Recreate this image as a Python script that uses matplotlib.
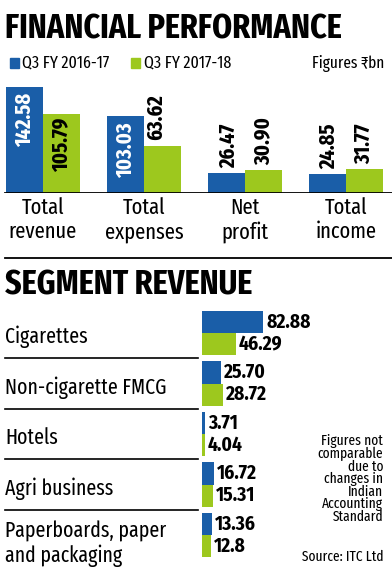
import matplotlib
matplotlib.use("Agg")
import matplotlib.pyplot as plt
from matplotlib.patches import Rectangle
from matplotlib.transforms import blended_transform_factory

# financial performance (Rs bn)
fin_cats = ["Total\nrevenue", "Total\nexpenses", "Net\nprofit", "Total\nincome"]
fin_prev = [142.58, 103.03, 26.47, 24.85]
fin_curr = [105.79, 63.62, 30.90, 31.77]
fin_prev_lbl = ["142.58", "103.03", "26.47", "24.85"]
fin_curr_lbl = ["105.79", "63.62", "30.90", "31.77"]

# segment revenue (Rs bn)
seg_cats = ["Cigarettes", "Non-cigarette FMCG", "Hotels", "Agri business",
            "Paperboards, paper\nand packaging"]
seg_prev = [82.88, 25.70, 3.71, 16.72, 13.36]
seg_curr = [46.29, 28.72, 4.04, 15.31, 12.8]
seg_prev_lbl = ["82.88", "25.70", "3.71", "16.72", "13.36"]
seg_curr_lbl = ["46.29", "28.72", "4.04", "15.31", "12.8"]

BLUE = "#1a5ea8"
GREEN = "#9dc81e"
XCOND = ["Fira Sans Extra Condensed", "DejaVu Sans"]
COND = ["Fira Sans Condensed", "DejaVu Sans"]

W, H = 392, 584
fig = plt.figure(figsize=(W / 100, H / 100), dpi=100)


def box(x0, y0, x1, y1):
    # pixel box (top-left origin) -> figure fraction rect
    return [x0 / W, 1 - y1 / H, (x1 - x0) / W, (y1 - y0) / H]


def fx(x):
    return x / W


def fy(y):
    return 1 - y / H


# titles and legend
fig.text(fx(5), fy(29), "FINANCIAL PERFORMANCE", fontsize=25, weight="bold",
         family=XCOND, va="center", ha="left")
fig.patches.append(Rectangle((fx(10), fy(68)), 9 / W, 10 / H, color=BLUE,
                             transform=fig.transFigure, figure=fig))
fig.text(fx(22), fy(63), "Q3 FY 2016-17", fontsize=12.5, family=XCOND, va="center")
fig.patches.append(Rectangle((fx(131), fy(68)), 9 / W, 10 / H, color=GREEN,
                             transform=fig.transFigure, figure=fig))
fig.text(fx(144), fy(63), "Q3 FY 2017-18", fontsize=12.5, family=XCOND, va="center")
fig.text(fx(384), fy(63), "Figures \u20b9bn", fontsize=12, family=XCOND,
         va="center", ha="right")

# top chart: grouped columns
ax = fig.add_axes(box(0, 80, W, 193))
x = list(range(len(fin_cats)))
bw = 0.366
ax.bar([i - bw / 2 for i in x], fin_prev, bw, color=BLUE)
ax.bar([i + bw / 2 for i in x], fin_curr, bw, color=GREEN)
ax.set_xlim(-43 / 101, (W - 43) / 101)
ax.set_ylim(0, 113 / 0.745)
ax.axis("off")
ax.axhline(0, xmin=5 / W, xmax=1, color="black", lw=1.3)

vk = dict(rotation=90, ha="center", fontsize=16, weight="bold", family=XCOND)
for i in x:
    if fin_prev[i] > 90:
        ax.text(i - bw / 2, fin_prev[i] - 8, fin_prev_lbl[i], va="top",
                color="white", **vk)
    else:
        ax.text(i - bw / 2 + 0.02, fin_prev[i] + 7, fin_prev_lbl[i], va="bottom",
                color="black", **vk)
    if fin_curr[i] > 90:
        ax.text(i + bw / 2, fin_curr[i] - 5, fin_curr_lbl[i], va="top",
                color="black", **vk)
    else:
        dx = -0.06 if fin_curr[i] > 50 else 0
        ax.text(i + bw / 2 + dx, fin_curr[i] + 7, fin_curr_lbl[i], va="bottom",
                color="black", **vk)
    ax.text(i, -6, fin_cats[i], ha="center", va="top", fontsize=16,
            family=XCOND, linespacing=1.15, clip_on=False)

# divider
fig.add_artist(plt.Line2D([fx(5), fx(W)], [fy(258), fy(258)], color="black", lw=1.3))

fig.text(fx(5), fy(285), "SEGMENT REVENUE", fontsize=25, weight="bold",
         family=XCOND, va="center", ha="left")

# bottom chart: horizontal paired bars
ax2 = fig.add_axes(box(0, 300, W, 570))
rows = list(range(len(seg_cats)))
bh = 0.44
ax2.barh([r - bh for r in rows], seg_prev, height=bh, align="edge", color=BLUE)
ax2.barh(rows, seg_curr, height=bh, align="edge", color=GREEN)
scale = 0.737
ax2.set_xlim(-202 / scale, (W - 202) / scale)
ax2.set_ylim((570 - 333) / 50.5, (300 - 333) / 50.5)
ax2.axis("off")

for r in rows:
    ax2.text(seg_prev[r] + 4, r - bh / 2, seg_prev_lbl[r], va="center", ha="left",
             fontsize=14, weight="bold", family=COND)
    ax2.text(seg_curr[r] + 4, r + bh / 2, seg_curr_lbl[r], va="center", ha="left",
             fontsize=14, weight="bold", family=COND)

tr = blended_transform_factory(ax2.transAxes, ax2.transData)
for r in rows:
    two = "\n" in seg_cats[r]
    ax2.text(5 / W, r + (0.17 if two else 0.08), seg_cats[r], transform=tr,
             va="center", ha="left", fontsize=15.5, family=XCOND,
             linespacing=1.15)
    if r > 0:
        ax2.plot([5 / W, 198 / W], [r - 0.5, r - 0.5], transform=tr,
                 color="black", lw=1.2, clip_on=False)

fig.text(fx(383), fy(479), "Figures not\ncomparable\ndue to\nchanges in\nIndian\nAccounting\nStandard",
         ha="right", va="center", fontsize=10.5, family=XCOND,
         linespacing=0.85, multialignment="right")
fig.text(fx(383), fy(557), "Source: ITC Ltd", ha="right", va="center", fontsize=10.5,
         family=XCOND)

fig.savefig("out.png", dpi=100)
